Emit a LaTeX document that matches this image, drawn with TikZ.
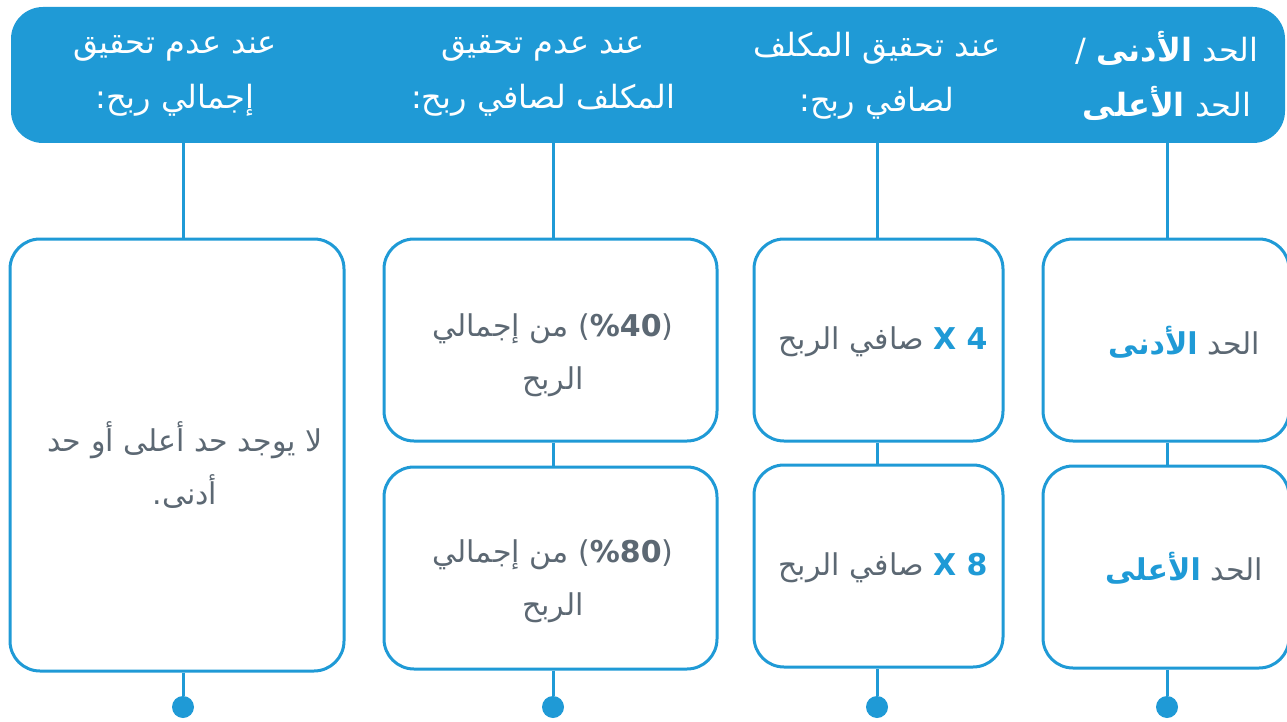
\documentclass[tikz,border=0pt]{standalone}
\usepackage{fontspec}
\setmainfont{DejaVu Sans}
\newfontfamily\arabicfont[Script=Arabic]{DejaVu Sans}
\TeXXeTstate=1
\definecolor{mainblue}{HTML}{1F9AD6}
\definecolor{txtgray}{HTML}{5C6873}
\begin{document}
\begin{tikzpicture}[x=1pt,y=-1pt,
  box/.style={draw=mainblue, line width=3pt, rounded corners=30pt, fill=white, inner sep=0pt},
  conn/.style={draw=mainblue, line width=3pt},
  dotn/.style={circle, fill=mainblue, inner sep=0pt, minimum size=22pt},
  htext/.style={text=white, align=center, font=\arabicfont\fontsize{32}{55}\selectfont},
  btext/.style={text=txtgray, align=center, font=\arabicfont\fontsize{30}{53}\selectfont}]
\useasboundingbox (0,0) rectangle (1287,722);
\begin{scope}
\clip (0,0) rectangle (1287,722);
% header
\node[fill=mainblue, rounded corners=32pt, minimum width=1274pt, minimum height=136pt, inner sep=0pt] (hdr) at (648,75) {};
% boxes
\node[box, minimum width=334pt, minimum height=432pt] (A) at (177,455) {};
\node[box, minimum width=333pt, minimum height=202pt] (B1) at (550.5,340) {};
\node[box, minimum width=333pt, minimum height=202pt] (B2) at (550.5,568) {};
\node[box, minimum width=249pt, minimum height=202pt] (C1) at (878.5,340) {};
\node[box, minimum width=249pt, minimum height=202pt] (C2) at (878.5,566) {};
\node[box, minimum width=246pt, minimum height=202pt] (D1) at (1166,340) {};
\node[box, minimum width=246pt, minimum height=202pt] (D2) at (1166,567) {};
% dots
\node[dotn] (dA) at (183,707) {};
\node[dotn] (dB) at (553,707) {};
\node[dotn] (dC) at (877,707) {};
\node[dotn] (dD) at (1167,707) {};
% connectors
\draw[conn] (dA |- hdr.south) -- (dA |- A.north);
\draw[conn] (dA |- A.south) -- (dA);
\draw[conn] (dB |- hdr.south) -- (dB |- B1.north);
\draw[conn] (dB |- B1.south) -- (dB |- B2.north);
\draw[conn] (dB |- B2.south) -- (dB);
\draw[conn] (dC |- hdr.south) -- (dC |- C1.north);
\draw[conn] (dC |- C1.south) -- (dC |- C2.north);
\draw[conn] (dC |- C2.south) -- (dC);
\draw[conn] (dD |- hdr.south) -- (dD |- D1.north);
\draw[conn] (dD |- D1.south) -- (dD |- D2.north);
\draw[conn] (dD |- D2.south) -- (dD);
% header texts
\node[htext] (h1) at (175,76) {\beginR عند عدم تحقيق\endR\\:\beginR إجمالي ربح\endR};
\node[htext] (h2) at (543,76) {\beginR عند عدم تحقيق\endR\\:\beginR المكلف لصافي ربح\endR};
\node[htext] (h3) at (877,76) {\beginR عند تحقيق المكلف\endR\\:\beginR لصافي ربح\endR};
\node[htext] (h4) at (1167,76) {/ \beginR الحد {\bfseries الأدنى}\endR\\\beginR الحد {\bfseries الأعلى}\endR};
% box texts
\node[btext] (tA) at (185,465) {\beginR لا يوجد حد أعلى أو حد\endR\\.\beginR أدنى\endR};
\node[btext] (tB1) at (553,355) {\beginR من إجمالي\endR\ {\rmfamily(\textbf{\%40})}\\\beginR الربح\endR};
\node[btext] (tB2) at (553,581) {\beginR من إجمالي\endR\ {\rmfamily(\textbf{\%80})}\\\beginR الربح\endR};
\node[btext] (tC1) at (883,342) {\beginR صافي الربح\endR\ {\color{mainblue}\rmfamily\bfseries X 4}};
\node[btext] (tC2) at (883,568) {\beginR صافي الربح\endR\ {\color{mainblue}\rmfamily\bfseries X 8}};
\node[btext] (tD1) at (1184,342) {{\color{mainblue}\bfseries الأدنى}\ الحد};
\node[btext] (tD2) at (1184,568) {{\color{mainblue}\bfseries الأعلى}\ الحد};
\end{scope}
\end{tikzpicture}
\end{document}
